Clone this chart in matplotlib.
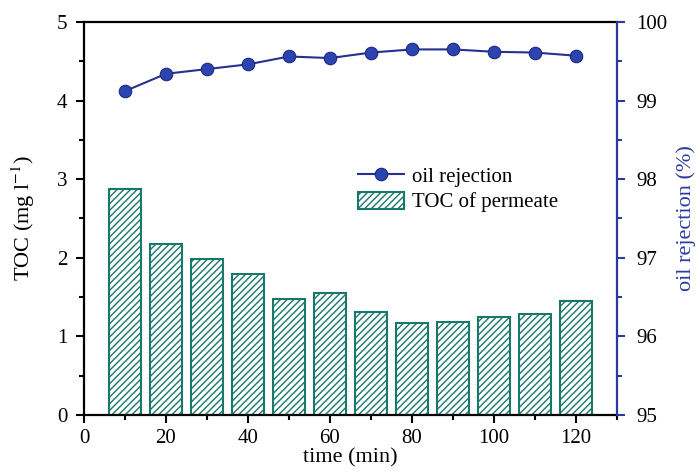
import matplotlib.pyplot as plt
from matplotlib.ticker import MultipleLocator

plt.rcParams['font.family'] = ['Liberation Serif', 'DejaVu Serif']
plt.rcParams['mathtext.fontset'] = 'stix'
plt.rcParams['hatch.linewidth'] = 1.0

time_min = [10, 20, 30, 40, 50, 60, 70, 80, 90, 100, 110, 120]
toc = [2.88, 2.18, 1.98, 1.80, 1.48, 1.55, 1.31, 1.17, 1.18, 1.25, 1.29, 1.45]
rejection = [99.12, 99.34, 99.40, 99.46, 99.56, 99.54, 99.61, 99.65, 99.65, 99.62, 99.61, 99.57]

TEAL = '#18786c'
NAVY = '#26318f'
BLUE = '#2b3a9e'

fig = plt.figure(figsize=(6.98, 4.76), dpi=100)
ax = fig.add_axes([0.1203, 0.128, 0.7637, 0.826])

bars = ax.bar(time_min, toc, width=8, facecolor='white', edgecolor=TEAL,
              hatch='/////', linewidth=1.5, label='TOC of permeate', zorder=2)

ax.set_xlim(0, 130)
ax.set_ylim(0, 5)
ax.xaxis.set_major_locator(MultipleLocator(20))
ax.xaxis.set_minor_locator(MultipleLocator(10))
ax.yaxis.set_major_locator(MultipleLocator(1))
ax.yaxis.set_minor_locator(MultipleLocator(0.5))
ax.set_xlabel('time (min)', fontsize=16, labelpad=0)
ax.set_ylabel('TOC (mg l$^{-1}$)', fontsize=16, labelpad=14)
ax.tick_params(axis='both', which='major', direction='out', length=6, width=1.5,
               labelsize=15, pad=4)
ax.tick_params(axis='y', which='major', pad=6)
ax.tick_params(axis='both', which='minor', direction='out', length=3.5, width=1.5)
for s in ax.spines.values():
    s.set_linewidth(1.6)
ax.spines['right'].set_visible(False)

ax2 = ax.twinx()
line, = ax2.plot(time_min, rejection, '-o', color=NAVY, lw=1.5,
                 markersize=9, markerfacecolor='#2c44b0', markeredgecolor='#1f2a80',
                 markeredgewidth=0.8, label='oil rejection', zorder=3)
ax2.set_ylim(95, 100)
ax2.yaxis.set_major_locator(MultipleLocator(1))
ax2.yaxis.set_minor_locator(MultipleLocator(0.5))
ax2.set_ylabel('oil rejection (%)', fontsize=16, color=BLUE, labelpad=6)
ax2.tick_params(axis='y', which='major', direction='out', length=6, width=1.5,
                labelsize=15, color=BLUE, pad=8)
ax2.tick_params(axis='y', which='minor', direction='out', length=3.5, width=1.5, color=BLUE)
for side in ['left', 'top', 'bottom']:
    ax2.spines[side].set_visible(False)
ax2.spines['right'].set_color(BLUE)
ax2.spines['right'].set_linewidth(1.6)

ax2.legend([line, bars], ['oil rejection', 'TOC of permeate'], loc='upper left',
           bbox_to_anchor=(0.487, 0.67), frameon=False, fontsize=15,
           handlelength=2.2, handleheight=0.9, handletextpad=0.4,
           labelspacing=0.22, borderpad=0.2)

fig.savefig('out.png', dpi=100)
